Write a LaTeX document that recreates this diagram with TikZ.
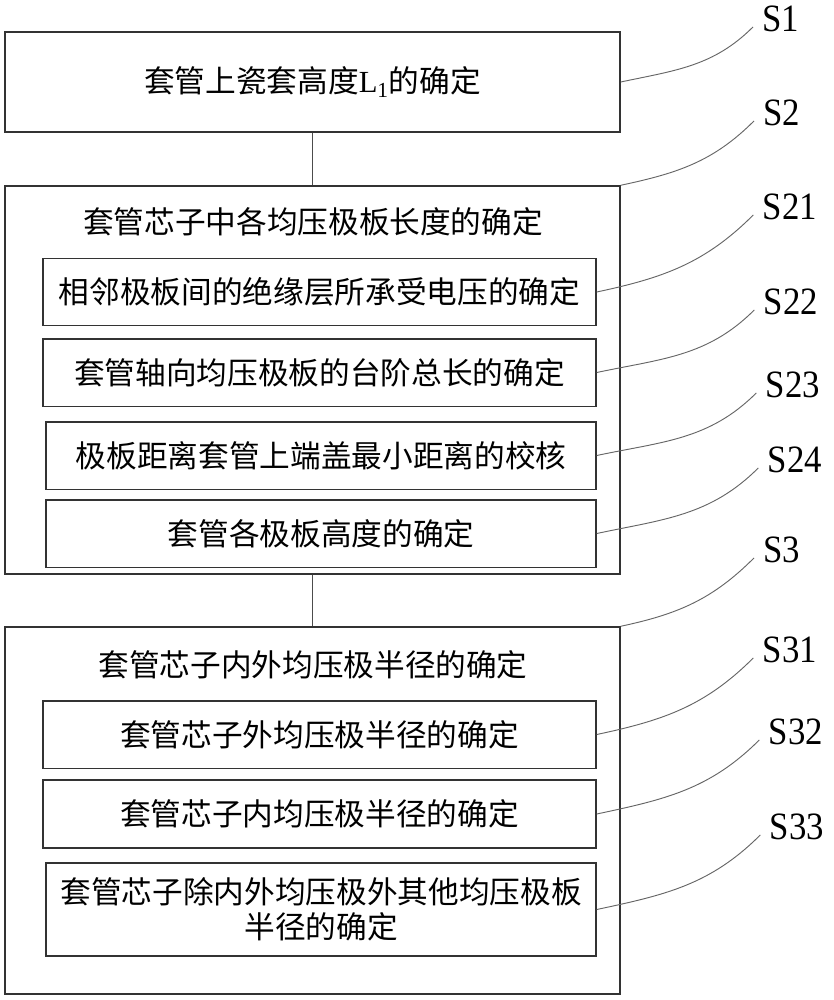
\documentclass[tikz,border=0pt]{standalone}
\usepackage{fontspec}
\usepackage{graphicx}
\setmainfont{Liberation Serif}
\newfontfamily\cjk{Noto Sans CJK SC}
\newcommand\steptag[1]{\scalebox{0.9}[1]{#1}}

\begin{document}
\begin{tikzpicture}[x=0.75pt,y=-0.75pt,
  box/.style={draw=black!80,line width=1.1pt,inner sep=0pt,minimum width=461.25pt},
  subbox/.style={draw=black!80,line width=1.1pt,inner sep=0pt,minimum width=414.75pt,minimum height=50.6pt,font=\cjk\fontsize{23}{26.25}\selectfont,align=center},
  txt/.style={font=\cjk\fontsize{23}{26.25}\selectfont,inner sep=0pt},
  tag/.style={font=\fontsize{29}{32}\selectfont,inner sep=0pt},
  lead/.style={draw=black!60,line width=0.7pt}]
\useasboundingbox (0,0) rectangle (833,1000);

% S1
\node[box,minimum height=75pt,txt] (s1) at (312.5,82) {套管上瓷套高度{\rmfamily L\textsubscript{1}}的确定};

% S2
\node[box,minimum height=291pt] (s2) at (312.5,380) {};
\node[txt] (s2title) at (313,222) {套管芯子中各均压极板长度的确定};
\node[subbox] (s21) at (319.5,292) {相邻极板间的绝缘层所承受电压的确定};
\node[subbox] (s22) at (319.5,372.5) {套管轴向均压极板的台阶总长的确定};
\node[subbox,minimum width=412.5pt] (s23) at (321,455.5) {极板距离套管上端盖最小距离的校核};
\node[subbox,minimum width=412.5pt] (s24) at (321,533.5) {套管各极板高度的确定};

% S3
\node[box,minimum height=275.25pt] (s3) at (312.5,810.5) {};
\node[txt] (s3title) at (313,665) {套管芯子内外均压极半径的确定};
\node[subbox] (s31) at (319.5,734.5) {套管芯子外均压极半径的确定};
\node[subbox,minimum height=51pt] (s32) at (319.5,814) {套管芯子内均压极半径的确定};
\node[subbox,minimum width=412.5pt,minimum height=69.75pt] (s33) at (321,909.5) {套管芯子除内外均压极外其他均压极板\\半径的确定};

% flow
\draw[line width=0.8pt,black!70] (s1.south) -- (s2.north);
\draw[line width=0.8pt,black!70] (s2.south) -- (s3.north);

% step tags
\node[tag] (t1) at (781,19) {\steptag{S1}};
\node[tag] (t2) at (782,113) {\steptag{S2}};
\node[tag] (t21) at (790,207) {\steptag{S21}};
\node[tag] (t22) at (791,302) {\steptag{S22}};
\node[tag] (t23) at (793,385) {\steptag{S23}};
\node[tag] (t24) at (795,460) {\steptag{S24}};
\node[tag] (t3) at (782,550) {\steptag{S3}};
\node[tag] (t31) at (790,650) {\steptag{S31}};
\node[tag] (t32) at (796,732) {\steptag{S32}};
\node[tag] (t33) at (797,827) {\steptag{S33}};

\draw[lead] (s1.east) to[out=12,in=225] ([xshift=-7pt,yshift=4pt]t1.south west);
\draw[lead] (s2.north east) to[out=12,in=225] ([xshift=-7pt,yshift=4pt]t2.south west);
\draw[lead] (s21.east) to[out=12,in=225] ([xshift=-7pt,yshift=4pt]t21.south west);
\draw[lead] (s22.east) to[out=12,in=225] ([xshift=-7pt,yshift=4pt]t22.south west);
\draw[lead] (s23.east) to[out=12,in=225] ([xshift=-7pt,yshift=4pt]t23.south west);
\draw[lead] (s24.east) to[out=12,in=225] ([xshift=-7pt,yshift=4pt]t24.south west);
\draw[lead] (s3.north east) to[out=12,in=225] ([xshift=-7pt,yshift=4pt]t3.south west);
\draw[lead] (s31.east) to[out=12,in=225] ([xshift=-7pt,yshift=4pt]t31.south west);
\draw[lead] (s32.east) to[out=12,in=225] ([xshift=-7pt,yshift=4pt]t32.south west);
\draw[lead] (s33.east) to[out=12,in=225] ([xshift=-7pt,yshift=4pt]t33.south west);
\end{tikzpicture}
\end{document}
